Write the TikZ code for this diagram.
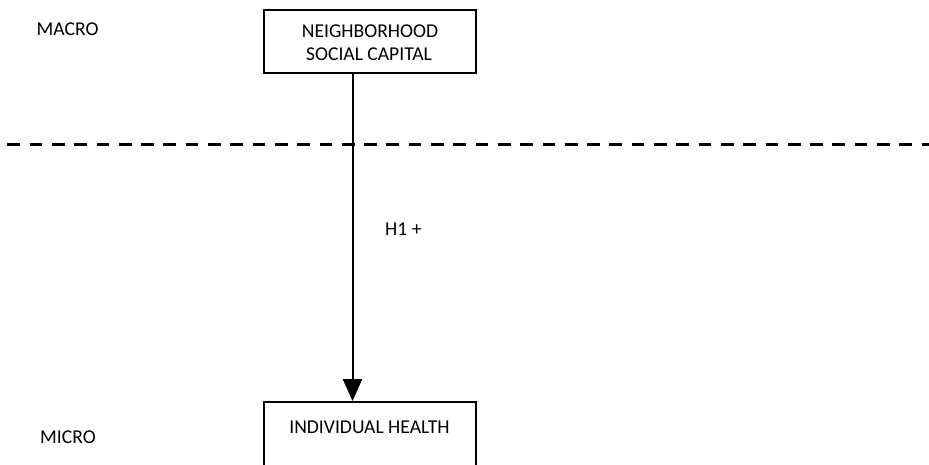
\documentclass[tikz,border=0pt]{standalone}
\usepackage{fontspec}
\setmainfont{Carlito}
\usetikzlibrary{arrows.meta}
\begin{document}
\begin{tikzpicture}[x=1pt,y=-1pt,
  lbl/.style={anchor=base west,inner sep=0pt,font=\fontsize{19.6}{23.5}\selectfont},
  ctxt/.style={anchor=base,inner sep=0pt,font=\fontsize{19.6}{23.5}\selectfont},
  boxnode/.style={draw,line width=1.8pt,minimum width=212pt,inner sep=0pt},
  link/.style={line width=2pt,-{Triangle[width=19pt,length=22pt]}},
  level/.style={line width=3pt,dash pattern=on 12.7pt off 9.6pt}]
\useasboundingbox (0,0) rectangle (929,464);
% boxes
\node[boxnode,minimum height=63pt] (top) at (370,41.5) {};
\node[boxnode,minimum height=80pt] (bot) at (370,442) {};
% box texts
\node[ctxt] (t1) at (370,37.6) {NEIGHBORHOOD};
\node[ctxt] (t2) at (369,60.6) {SOCIAL CAPITAL};
\node[ctxt] (t3) at (369.5,433.3) {INDIVIDUAL HEALTH};
% level labels
\node[lbl] (macro) at (36.5,35.5) {MACRO};
\node[lbl] (micro) at (40,443) {MICRO};
% dashed separator
\coordinate (dl) at (7.3,144);
\coordinate (dr) at (929,144);
\draw[level] (dl) -- (dr);
% arrow
\coordinate (ax) at (352.5,0);
\draw[link] (ax |- top.south) -- (ax |- bot.north);
\node[lbl] (h1) at (385,235) {H1 +};
\end{tikzpicture}
\end{document}
